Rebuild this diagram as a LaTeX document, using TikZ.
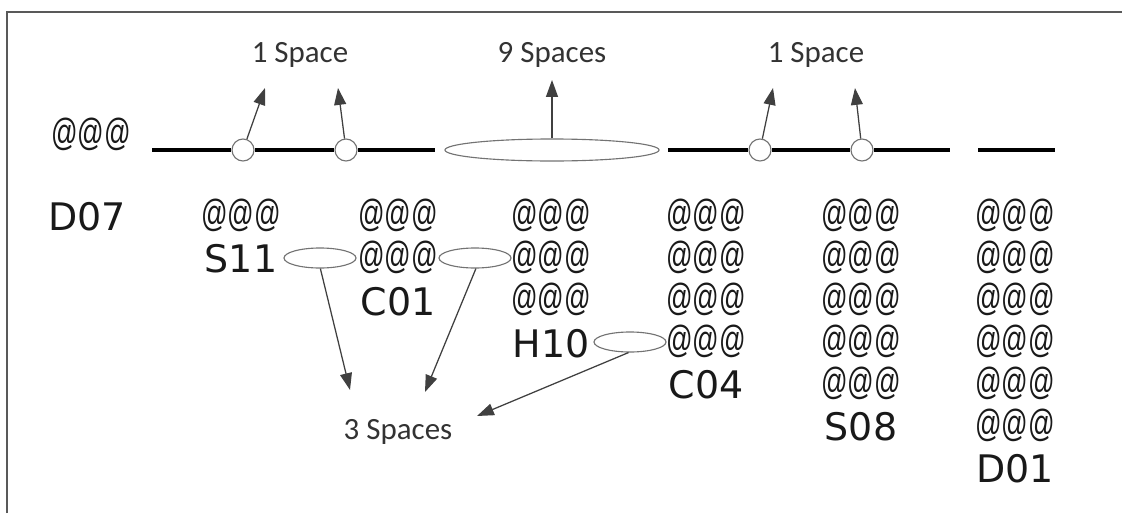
\documentclass[tikz,border=0pt]{standalone}
\usepackage{fontspec}
\setmainfont{Carlito}
\newfontfamily\codefont{DejaVu Sans}
\newfontfamily\atfont{Liberation Sans}
\usetikzlibrary{arrows.meta,shapes.geometric}
\newcommand{\atrow}{\scalebox{0.69}[1]{@@@}}

\begin{document}
\begin{tikzpicture}[x=0.025cm,y=-0.025cm,
  lbl/.style={font=\fontsize{22}{24}\selectfont, text=black!80, inner sep=0pt},
  ats/.style={font=\atfont\fontsize{27}{29}\selectfont, text=black!90, inner sep=0pt},
  code/.style={font=\codefont\fontsize{27}{29}\selectfont, text=black!90, inner sep=0pt},
  joint/.style={circle, draw=black!55, fill=white, line width=0.8pt, minimum size=0.55cm, inner sep=0pt},
  gap/.style={ellipse, draw=black!55, fill=white, line width=0.8pt, inner sep=0pt},
  rail/.style={draw=black, line width=2.4pt},
  ptr/.style={draw=black!75, line width=0.9pt, -{Triangle[length=12pt,width=8.5pt]}}]

\useasboundingbox (0,0) rectangle (1122,513);
% frame edges
\draw[black!65, line width=1.3pt] (7,513) -- (7,12) -- (1122,12);

% the string line with its gaps
\coordinate (r1a) at (152,150);
\coordinate (r1b) at (435,150);
\coordinate (r2a) at (668,150);
\coordinate (r2b) at (950,150);
\coordinate (r3a) at (978,150);
\coordinate (r3b) at (1055,150);
\node[joint] (j1) at (243,150) {};
\node[joint] (j2) at (346,150) {};
\node[joint] (j3) at (760,150) {};
\node[joint] (j4) at (862,150) {};
\node[gap, minimum width=5.35cm, minimum height=0.55cm] (gbig) at (552,150) {};
\draw[rail] (r1a) -- (j1) (j1) -- (j2) (j2) -- (r1b);
\draw[rail] (r2a) -- (j3) (j3) -- (j4) (j4) -- (r2b);
\draw[rail] (r3a) -- (r3b);

% labels above the line
\node[lbl] (l1) at (300,55) {1 Space};
\node[lbl] (l9) at (552,55) {9 Spaces};
\node[lbl] (l2) at (816,55) {1 Space};
\coordinate (t1) at (265,88);
\coordinate (t2) at (338,88);
\coordinate (t9) at (552,80);
\coordinate (t3) at (773,88);
\coordinate (t4) at (855,88);
\draw[ptr] (j1) -- (t1);
\draw[ptr] (j2) -- (t2);
\draw[ptr] (gbig) -- (t9);
\draw[ptr] (j3) -- (t3);
\draw[ptr] (j4) -- (t4);

\node[ats] (top) at (91,134) {\atrow};

% columns of @@@ rows
\node[code] (d07) at (87,217) {D07};
\foreach \c/\x/\n in {1/241/1, 2/398/2, 3/551/3, 4/706/4, 5/861/5, 6/1015/6}
  \foreach \r in {1,...,\n}
    \node[ats] (a\c\r) at (\x,{215+(\r-1)*42}) {\atrow};
\node[code] (s11) at (241,259) {S11};
\node[code] (c01) at (398,302) {C01};
\node[code] (h10) at (551,344) {H10};
\node[code] (c04) at (706,385) {C04};
\node[code] (s08) at (861,427) {S08};
\node[code] (d01) at (1015,469) {D01};

% gaps between the rows
\node[gap, minimum width=1.8cm, minimum height=0.5cm] (e1) at (320,258) {};
\node[gap, minimum width=1.8cm, minimum height=0.5cm] (e2) at (475,258) {};
\node[gap, minimum width=1.8cm, minimum height=0.5cm] (e3) at (630,342) {};

\node[lbl] (sp3) at (398,432) {3 Spaces};
\coordinate (b1) at (350,390);
\coordinate (b2) at (425,392);
\coordinate (b3) at (477,416);
\draw[ptr] (e1.272) -- (b1);
\draw[ptr] (e2.275) -- (b2);
\draw[ptr] (e3.262) -- (b3);
\end{tikzpicture}
\end{document}
